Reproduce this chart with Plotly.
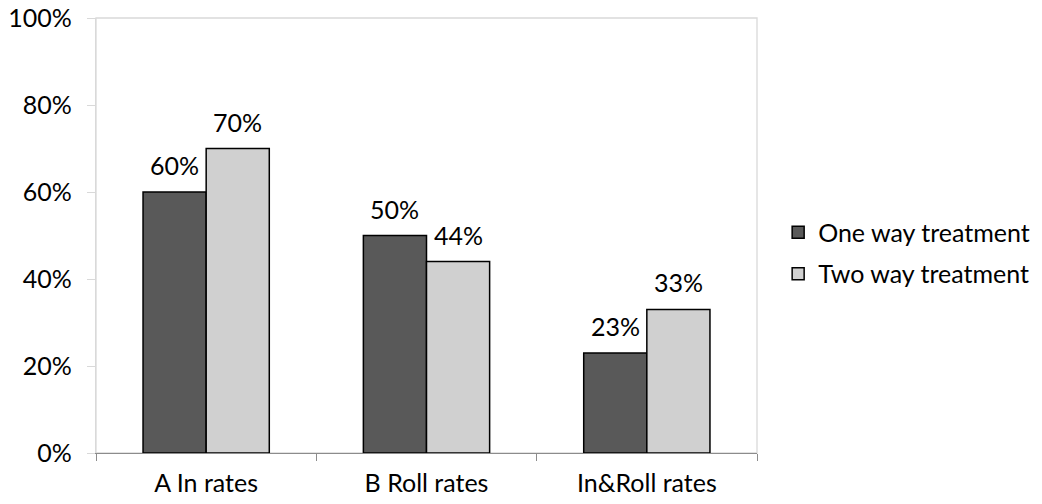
import plotly.graph_objects as go

categories = ["A In rates", "B Roll rates", "In&Roll rates"]
one_way = [0.60, 0.50, 0.23]
two_way = [0.70, 0.44, 0.33]
series_names = ["One way treatment", "Two way treatment"]
y_ticks = [0, 0.2, 0.4, 0.6, 0.8, 1.0]
y_tick_labels = ["0%", "20%", "40%", "60%", "80%", "100%"]

FONT = "Lato"
FS = 25
W, H = 1042, 504
ML, MR, MT, MB = 96, 285, 18, 51
BARGAP = 0.427

fig = go.Figure()
fig.add_trace(go.Bar(
    x=categories, y=one_way, name=series_names[0],
    marker=dict(color="#595959", line=dict(color="black", width=1.5)),
    legendgroup="a",
))
fig.add_trace(go.Bar(
    x=categories, y=two_way, name=series_names[1],
    marker=dict(color="#d0d0d0", line=dict(color="black", width=1.5)),
    legendgroup="b",
))

# value labels above bars (offset to each bar of the group)
plot_w = W - ML - MR
bar_w = (1 - BARGAP) / 2 * plot_w / len(categories)
for series, sign in ((one_way, -1), (two_way, 1)):
    for cat, v in zip(categories, series):
        fig.add_annotation(x=cat, y=v, text=f"{v:.0%}", showarrow=False,
                           xanchor="center", yanchor="bottom",
                           xshift=sign * bar_w / 2, yshift=10,
                           font=dict(size=FS, color="black", family=FONT))

fig.update_layout(
    width=W, height=H,
    margin=dict(l=ML, r=MR, t=MT, b=MB, autoexpand=False),
    paper_bgcolor="white", plot_bgcolor="white",
    font=dict(family=FONT, size=FS, color="black"),
    barmode="group", bargap=BARGAP, bargroupgap=0,
    showlegend=True,
    legend=dict(x=1.032, y=0.46, xanchor="left", yanchor="middle",
                font=dict(size=FS, family=FONT), tracegroupgap=6,
                traceorder="grouped", bgcolor="rgba(0,0,0,0)"),
    xaxis=dict(
        showline=True, linecolor="#8c8c8c", linewidth=1.3, automargin=False,
        mirror=False, ticks="outside", tickson="boundaries", ticklen=7,
        tickcolor="#8c8c8c", tickwidth=1, showgrid=False,
        ticklabelstandoff=8,
    ),
    yaxis=dict(
        range=[0, 1.0], tickvals=y_ticks, ticktext=y_tick_labels, automargin=False,
        showgrid=False, zeroline=False, showline=True, linecolor="#d9d9d9",
        linewidth=1.3, ticks="outside", ticklen=8, tickcolor="#d9d9d9",
        ticklabelstandoff=10,
    ),
)
# light plot-area frame (top/right)
fig.add_shape(type="rect", xref="paper", yref="paper", x0=0, y0=0, x1=1, y1=1,
              line=dict(color="#d9d9d9", width=1.3), layer="below")

fig.write_html("out.html")
